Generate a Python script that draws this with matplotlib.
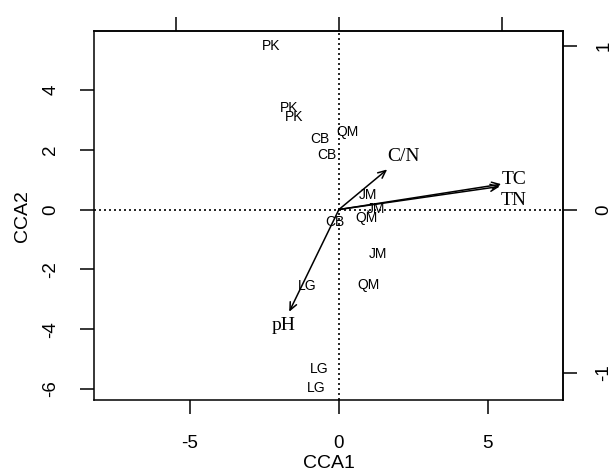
import matplotlib
matplotlib.use('Agg')
import matplotlib.pyplot as plt

plt.rcParams['axes.unicode_minus'] = False

# site scores (CCA1, CCA2)
site_labels = ['PK', 'PK', 'PK', 'CB', 'QM', 'CB', 'JM', 'JM', 'QM', 'CB',
               'JM', 'LG', 'QM', 'LG', 'LG']
site_x = [-2.26, -1.67, -1.51, -0.64, 0.28, -0.41, 0.96, 1.23, 0.91, -0.13,
          1.30, -1.08, 0.98, -0.66, -0.77]
site_y = [5.48, 3.38, 3.08, 2.36, 2.58, 1.82, 0.48, 0.03, -0.27, -0.43,
          -1.50, -2.55, -2.53, -5.33, -5.98]

# biplot scores of environmental variables (arrow units)
env_labels = ['TC', 'TN', 'C/N', 'pH']
env_x = [0.996, 0.987, 0.296, -0.305]
env_y = [0.155, 0.141, 0.245, -0.625]
mul = 5.47

# offsets of arrow labels from arrow tips (points)
lab_off = {'TC': (9, 3), 'TN': (10, -10), 'C/N': (12, 9), 'pH': (-4, -10)}

sans = 'Liberation Sans'
serif = 'Liberation Serif'

fig = plt.figure(figsize=(6.14, 4.76), dpi=100)
ax = fig.add_axes([0.1531, 0.159, 0.9174 - 0.1531, 0.9349 - 0.159])
ax.set_xlim(-8.22, 7.53)
ax.set_ylim(-6.38, 5.97)

ax.axhline(0, color='black', ls=(0, (1.2, 1.8)), lw=1.2, zorder=1)
ax.axvline(0, color='black', ls=(0, (1.2, 1.8)), lw=1.2, zorder=1)

for lab, x, y in zip(site_labels, site_x, site_y):
    ax.text(x, y, lab, ha='center', va='center', fontsize=10, family=sans)

for lab, x, y in zip(env_labels, env_x, env_y):
    tip = (x * mul, y * mul)
    ax.annotate('', xy=tip, xytext=(0, 0),
                arrowprops=dict(arrowstyle='->,head_length=0.55,head_width=0.25',
                                color='black', lw=1.1, shrinkA=0, shrinkB=0))
    ax.annotate(lab, xy=tip, xytext=lab_off[lab], textcoords='offset points',
                ha='center', va='center', fontsize=14, family=serif)

for s in ax.spines.values():
    s.set_linewidth(1.1)

ax.set_xticks([-5, 0, 5])
ax.set_yticks([-6, -4, -2, 0, 2, 4])
ax.tick_params(direction='out', length=10, width=1.1, pad=15, labelsize=13.5)
for t in ax.get_xticklabels() + ax.get_yticklabels():
    t.set_family(sans)
for t in ax.get_yticklabels():
    t.set_rotation(90)
    t.set_va('center')

ax.set_xlabel('CCA1', fontsize=14, family=sans, labelpad=2)
ax.set_ylabel('CCA2', fontsize=14, family=sans, labelpad=8)

# arrow scale axes
top = ax.secondary_xaxis('top', functions=(lambda v: v / mul, lambda v: v * mul))
top.set_xticks([-1, 0, 1])
top.tick_params(direction='out', length=10, width=1.1, labeltop=False)
right = ax.secondary_yaxis('right', functions=(lambda v: v / mul, lambda v: v * mul))
right.set_yticks([-1, 0, 1])
right.tick_params(direction='out', length=10, width=1.1, pad=13, labelsize=13.5)
for t in right.get_yticklabels():
    t.set_family(sans)
    t.set_rotation(90)
    t.set_va('center')
for s in list(top.spines.values()) + list(right.spines.values()):
    s.set_linewidth(1.1)

fig.savefig('out.png', dpi=100)
